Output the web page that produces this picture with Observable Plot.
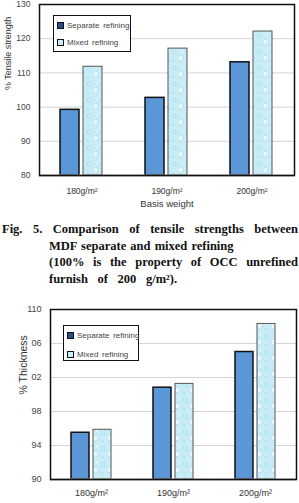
<!DOCTYPE html>
<html>
<head>
<meta charset="utf-8">
<script src="https://cdn.jsdelivr.net/npm/d3@7"></script>
<script src="https://cdn.jsdelivr.net/npm/@observablehq/plot@0.6"></script>
<style>
  html, body { margin: 0; padding: 0; background: #fff; }
  #page { position: relative; width: 299px; height: 503px; overflow: hidden; }
  .chart { position: absolute; left: 0; }
  .legend { position: absolute; background: #fff; border: 1.5px solid #111; box-sizing: border-box;
            font-family: "Liberation Sans", Arial, sans-serif; font-size: 8px; color: #444; }
  .legend .item { position: absolute; left: 3px; white-space: nowrap; word-spacing: 1.5px; }
  .legend .sw { display: inline-block; width: 5px; height: 5px; border: 1px solid #111; margin-right: 3px; vertical-align: -0.5px; }
  .caption { position: absolute; left: 0; top: 221px; width: 299px;
             font-family: "Liberation Serif", "Times New Roman", serif; font-weight: bold; font-size: 12.5px; color: #111; }
  .caption div { position: absolute; white-space: nowrap; line-height: 16.5px; }
  .caption .just { text-align: justify; text-align-last: justify; }
</style>
</head>
<body>
<div id="page">
  <div id="c1" class="chart" style="top:0"></div>
  <div id="c2" class="chart" style="top:300px"></div>
</div>
<script>
// Basis weights and refining methods
const groups = ["180g/m²", "190g/m²", "200g/m²"];
const series = ["Separate refining", "Mixed refining"];

// Tensile strength, % of unrefined OCC furnish
const tensileSeparate = [99.2, 102.7, 113.1];
const tensileMixed = [111.8, 117.1, 122.1];
const tensileTicks = [80, 90, 100, 110, 120, 130];

// Thickness, % of unrefined OCC furnish
const thickSeparate = [95.5, 100.8, 105.0];
const thickMixed = [95.85, 101.25, 108.3];
const thickTicks = [90, 94, 98, 102, 106, 110];
const thickTickLabels = ["90", "94", "98", "02", "06", "110"];

const captionLines = [
  "Fig. 5. Comparison of tensile strengths between",
  "MDF separate and mixed refining",
  "(100% is the property of OCC unrefined",
  "furnish of 200 g/m²)."
];

const SEP_FILL = "#5b97d6";
const MIX_FILL = "#c8edf7";

function rows(values, s) {
  return groups.map((g, i) => ({group: g, series: s, value: values[i]}));
}

// light cyan fill with a faint bubble texture
function bubblePattern(id) {
  return `<defs><pattern id="${id}" width="14" height="16" patternUnits="userSpaceOnUse">
    <rect width="14" height="16" fill="${MIX_FILL}"/>
    <circle cx="4" cy="4" r="2.2" fill="none" stroke="#a9d9e8" stroke-width="0.8"/>
    <circle cx="10.5" cy="10" r="2.8" fill="#e4f7fc" stroke="#a9d9e8" stroke-width="0.6"/>
    <circle cx="3" cy="13" r="1.3" fill="#b5e2ef"/>
    <circle cx="12" cy="2.5" r="1" fill="#e9f9fd"/>
  </pattern></defs>`;
}

function barChart({sep, mix, domain, ticks, tickFormat, yLabel, xLabel, width, height,
                   marginLeft, marginRight, marginTop, marginBottom, patternId,
                   tickFont, titleFont, titleOffset, fxPad, xLabelOffset, innerPad, outerPad}) {
  const base = domain[0];
  const marks = [
    Plot.gridY(ticks, {stroke: "#d4d4d4", strokeOpacity: 1, strokeWidth: 1}),
    Plot.barY(rows(sep, series[0]), {fx: "group", x: "series", y1: base, y2: "value",
      fill: SEP_FILL, stroke: "#111", strokeWidth: 1.5}),
    Plot.barY(rows(mix, series[1]), {fx: "group", x: "series", y1: base, y2: "value",
      fill: `url(#${patternId})`, stroke: "#555", strokeWidth: 1}),
    Plot.ruleY([base], {stroke: "#a8a8a8", strokeWidth: 2}),
    Plot.frame({stroke: "#111", strokeWidth: 1.5, facet: "super"}),
    Plot.axisY(ticks, {tickSize: 0, tickPadding: 9, tickFormat, label: null,
      fontSize: tickFont, fill: "#444"}),
    Plot.axisFx({anchor: "bottom", tickSize: 0, tickPadding: fxPad, label: null,
      fontSize: tickFont, fill: "#333"}),
    Plot.text([yLabel], {frameAnchor: "left", rotate: -90, dx: -titleOffset,
      fontSize: titleFont, fill: "#333", facet: "super"})
  ];
  if (xLabel) {
    marks.push(Plot.text([xLabel], {frameAnchor: "bottom", dy: xLabelOffset,
      fontSize: 9.5, fill: "#333", facet: "super"}));
  }
  const svg = Plot.plot({
    width, height, marginLeft, marginRight, marginTop, marginBottom,
    style: {fontFamily: "'Liberation Sans', Arial, sans-serif", background: "transparent", overflow: "visible"},
    fx: {domain: groups, padding: 0, label: null},
    x: {domain: series, paddingInner: innerPad, paddingOuter: outerPad, axis: null},
    y: {domain, label: null, axis: null},
    marks
  });
  svg.insertAdjacentHTML("afterbegin", bubblePattern(patternId));
  return svg;
}

function legend(left, top, w, h, gap) {
  const div = document.createElement("div");
  div.className = "legend";
  Object.assign(div.style, {left: left + "px", top: top + "px", width: w + "px", height: h + "px"});
  const fills = ["#24508a", MIX_FILL];
  series.forEach((s, i) => {
    const item = document.createElement("div");
    item.className = "item";
    item.style.top = (5 + i * gap) + "px";
    const sw = document.createElement("span");
    sw.className = "sw";
    sw.style.background = fills[i];
    item.appendChild(sw);
    item.appendChild(document.createTextNode(s));
    div.appendChild(item);
  });
  return div;
}

const c1 = document.getElementById("c1");
c1.appendChild(barChart({
  sep: tensileSeparate, mix: tensileMixed, domain: [80, 130], ticks: tensileTicks,
  tickFormat: d => String(d), yLabel: "% Tensile strength", xLabel: "Basis weight",
  width: 299, height: 212, marginLeft: 38, marginRight: 5, marginTop: 4, marginBottom: 37,
  patternId: "bubbles1", tickFont: 8.5, titleFont: 9, titleOffset: 31, fxPad: 12,
  xLabelOffset: 31, innerPad: 0.17, outerPad: 0.86
}));
c1.appendChild(legend(53, 15, 78, 37, 17));

const c2 = document.getElementById("c2");
c2.appendChild(barChart({
  sep: thickSeparate, mix: thickMixed, domain: [90, 110], ticks: thickTicks,
  tickFormat: d => thickTickLabels[thickTicks.indexOf(d)], yLabel: "% Thickness", xLabel: null,
  width: 299, height: 203, marginLeft: 49, marginRight: 2, marginTop: 9, marginBottom: 24,
  patternId: "bubbles2", tickFont: 9, titleFont: 10.5, titleOffset: 27, fxPad: 10,
  xLabelOffset: 0, innerPad: 0.2, outerPad: 0.9
}));
c2.appendChild(legend(63, 25, 76, 36, 19));

const cap = document.createElement("div");
cap.className = "caption";
const lineBoxes = [
  {left: 2, width: 296, just: true},
  {left: 49, just: false, spacing: 1},
  {left: 49, width: 249, just: true},
  {left: 49, just: false, spacing: 6.5}
];
captionLines.forEach((t, i) => {
  const d = document.createElement("div");
  const b = lineBoxes[i];
  d.style.left = b.left + "px";
  d.style.top = (i * 16.5) + "px";
  if (b.just) { d.className = "just"; d.style.width = b.width + "px"; d.style.whiteSpace = "normal"; }
  else { d.style.wordSpacing = b.spacing + "px"; }
  d.textContent = t;
  cap.appendChild(d);
});
document.getElementById("page").appendChild(cap);
</script>
</body>
</html>
